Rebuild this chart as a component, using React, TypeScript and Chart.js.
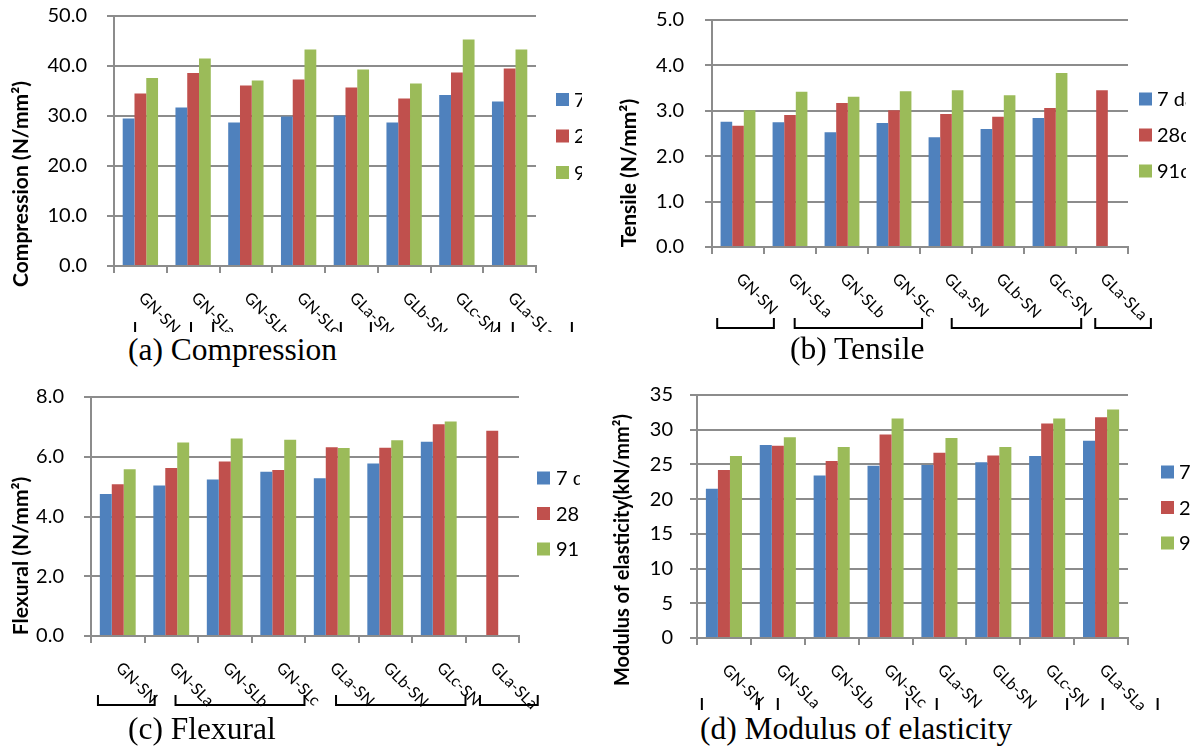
import React, { useEffect, useRef } from 'react';
import { Chart, registerables } from 'chart.js';

Chart.register(...registerables);

// ---------- data ----------
const categories = ['GN-SN', 'GN-SLa', 'GN-SLb', 'GN-SLc', 'GLa-SN', 'GLb-SN', 'GLc-SN', 'GLa-SLa'];
const seriesLabels = ['7 days', '28days', '91days'];
const seriesColors = ['#4F81BD', '#C0504D', '#9BBB59'];

const compression7 = [29.5, 31.7, 28.7, 29.9, 30.1, 28.7, 34.2, 32.9];
const compression28 = [34.5, 38.6, 36.1, 37.3, 35.7, 33.5, 38.7, 39.5];
const compression91 = [37.6, 41.5, 37.1, 43.3, 39.3, 36.5, 45.3, 43.3];
const compressionTicks = [0, 10, 20, 30, 40, 50];

const tensile7 = [2.76, 2.75, 2.53, 2.73, 2.42, 2.6, 2.84, null];
const tensile28 = [2.67, 2.91, 3.17, 3.01, 2.93, 2.87, 3.06, 3.45];
const tensile91 = [3.01, 3.42, 3.31, 3.43, 3.45, 3.34, 3.83, null];
const tensileTicks = [0, 1, 2, 3, 4, 5];

const flexural7 = [4.75, 5.04, 5.24, 5.5, 5.28, 5.77, 6.5, null];
const flexural28 = [5.08, 5.62, 5.84, 5.56, 6.32, 6.3, 7.09, 6.87];
const flexural91 = [5.58, 6.48, 6.61, 6.57, 6.29, 6.55, 7.18, null];
const flexuralTicks = [0, 2, 4, 6, 8];

const modulus7 = [21.5, 27.8, 23.4, 24.8, 24.9, 25.3, 26.2, 28.4];
const modulus28 = [24.2, 27.7, 25.5, 29.3, 26.7, 26.3, 30.9, 31.8];
const modulus91 = [26.2, 28.9, 27.5, 31.6, 28.8, 27.5, 31.6, 32.9];
const modulusTicks = [0, 5, 10, 15, 20, 25, 30, 35];

// ---------- layout ----------
const GRID = '#8c8c8c';
const FONT = 'Lato';

type Panel = {
  caption: string;
  captionPos: { left: number; top: number };
  yTitle: string;
  titleSize: number;
  series: (number | null)[][];
  ticks: number[];
  decimals: number;
  box: { x: number; y: number; w: number; h: number };
  plot: { left: number; right: number; top: number; bottom: number };
  tickPad: number;
  title: { x: number; y: number };
  legend: { x: number; tx: number; y: number; gap: number };
  bracketDy: number;
  bracketH: number;
  brackets: number[][];
};

const panels: Panel[] = [
  {
    caption: '(a) Compression',
    captionPos: { left: 128, top: 334 },
    yTitle: 'Compression (N/mm²)',
    titleSize: 21,
    series: [compression7, compression28, compression91],
    ticks: compressionTicks,
    decimals: 1,
    box: { x: 0, y: 0, w: 582, h: 332 },
    plot: { left: 114, right: 536, top: 16, bottom: 266 },
    tickPad: 20,
    title: { x: 21, y: 184 },
    legend: { x: 556, tx: 574, y: 99.5, gap: 36.5 },
    bracketDy: 56,
    bracketH: 14,
    brackets: [[0.4, 1.46], [1.88, 4.3], [4.87, 7.3], [7.56, 8.68]],
  },
  {
    caption: '(b) Tensile',
    captionPos: { left: 790, top: 333 },
    yTitle: 'Tensile (N/mm²)',
    titleSize: 21,
    series: [tensile7, tensile28, tensile91],
    ticks: tensileTicks,
    decimals: 1,
    box: { x: 600, y: 0, w: 586, h: 336 },
    plot: { left: 112, right: 528, top: 20, bottom: 247 },
    tickPad: 21,
    title: { x: 29, y: 173 },
    legend: { x: 539, tx: 557, y: 99, gap: 36 },
    bracketDy: 71,
    bracketH: 10,
    brackets: [[0.1, 1.19], [1.59, 4.04], [4.61, 7.1], [7.37, 8.44]],
  },
  {
    caption: '(c) Flexural',
    captionPos: { left: 128, top: 713 },
    yTitle: 'Flexural (N/mm²)',
    titleSize: 21,
    series: [flexural7, flexural28, flexural91],
    ticks: flexuralTicks,
    decimals: 1,
    box: { x: 0, y: 380, w: 580, h: 332 },
    plot: { left: 91, right: 519, top: 17, bottom: 256 },
    tickPad: 20,
    title: { x: 21, y: 176 },
    legend: { x: 537, tx: 556, y: 98, gap: 35.5 },
    bracketDy: 59,
    bracketH: 10,
    brackets: [[0.13, 1.19], [1.58, 3.99], [4.58, 7.0], [7.27, 8.35]],
  },
  {
    caption: '(d) Modulus of elasticity',
    captionPos: { left: 700, top: 713 },
    yTitle: 'Modulus of elasticity(kN/mm²)',
    titleSize: 20,
    series: [modulus7, modulus28, modulus91],
    ticks: modulusTicks,
    decimals: 0,
    box: { x: 600, y: 380, w: 590, h: 330 },
    plot: { left: 97, right: 528, top: 15, bottom: 258 },
    tickPad: 17,
    title: { x: 23, y: 170 },
    legend: { x: 561, tx: 579, y: 92, gap: 35.5 },
    bracketDy: 60,
    bracketH: 14,
    brackets: [[0.09, 1.15], [1.5, 3.9], [4.45, 6.87], [7.53, 8.55]],
  },
];

function makeOverlay(p: Panel) {
  return {
    id: 'overlay',
    afterDraw(chart: any) {
      const { ctx, chartArea, scales } = chart;
      const xs = scales.x;
      const labels: string[] = chart.data.labels;
      const catW = (xs.right - xs.left) / labels.length;
      ctx.save();
      // category labels, rotated clockwise
      ctx.font = `16px ${FONT}`;
      ctx.fillStyle = '#000';
      ctx.textAlign = 'left';
      ctx.textBaseline = 'middle';
      labels.forEach((lab, i) => {
        const cx = xs.getPixelForValue(i);
        ctx.save();
        ctx.translate(cx + 1, chartArea.bottom + 29);
        ctx.rotate(Math.PI / 4);
        ctx.fillText(lab, 0, 0);
        ctx.restore();
      });
      // group brackets
      ctx.strokeStyle = '#000';
      ctx.lineWidth = 2;
      p.brackets.forEach(([a, b]) => {
        const x1 = xs.left + a * catW;
        const x2 = xs.left + b * catW;
        const y1 = chartArea.bottom + p.bracketDy;
        const y2 = y1 + p.bracketH;
        ctx.beginPath();
        ctx.moveTo(x1, y1);
        ctx.lineTo(x1, y2);
        ctx.lineTo(x2, y2);
        ctx.lineTo(x2, y1);
        ctx.stroke();
      });
      // legend
      chart.data.datasets.forEach((ds: any, i: number) => {
        const cy = p.legend.y + i * p.legend.gap;
        ctx.fillStyle = ds.backgroundColor;
        ctx.fillRect(p.legend.x, cy - 6.5, 13, 13);
        ctx.fillStyle = '#000';
        ctx.font = `20px ${FONT}`;
        ctx.textBaseline = 'middle';
        ctx.textAlign = 'left';
        ctx.fillText(ds.label, p.legend.tx, cy + 1);
      });
      // y-axis title
      ctx.save();
      ctx.translate(p.title.x, p.title.y);
      ctx.rotate(-Math.PI / 2);
      ctx.font = `bold ${p.titleSize}px ${FONT}`;
      ctx.textAlign = 'center';
      ctx.textBaseline = 'middle';
      ctx.fillStyle = '#000';
      ctx.fillText(p.yTitle, 0, 0);
      ctx.restore();
      ctx.restore();
    },
  };
}

function PanelChart({ p }: { p: Panel }) {
  const ref = useRef<HTMLCanvasElement | null>(null);
  useEffect(() => {
    if (!ref.current) return;
    const min = p.ticks[0];
    const max = p.ticks[p.ticks.length - 1];
    const step = p.ticks[1] - p.ticks[0];
    const chart = new Chart(ref.current, {
      type: 'bar',
      data: {
        labels: categories,
        datasets: p.series.map((vals, i) => ({
          label: seriesLabels[i],
          data: vals,
          backgroundColor: seriesColors[i],
          borderWidth: 0,
          categoryPercentage: 0.67,
          barPercentage: 1.0,
        })),
      },
      options: {
        animation: false,
        responsive: false,
        events: [],
        layout: { padding: { top: p.plot.top, right: p.box.w - p.plot.right, left: 0, bottom: 0 } },
        plugins: { legend: { display: false }, tooltip: { enabled: false }, title: { display: false } },
        scales: {
          x: {
            grid: { drawOnChartArea: false, drawTicks: true, tickLength: 7, color: GRID, lineWidth: 2 },
            border: { display: true, color: GRID, width: 2 },
            ticks: { display: false },
            afterFit: (s: any) => {
              s.height = p.box.h - p.plot.bottom;
              s.paddingLeft = 0;
              s.paddingRight = 0;
            },
          },
          y: {
            min,
            max,
            ticks: {
              stepSize: step,
              padding: p.tickPad,
              color: '#000',
              font: { family: FONT, size: 20 },
              callback: (v: any) => Number(v).toFixed(p.decimals),
            },
            grid: { color: GRID, lineWidth: 2, tickLength: 7 },
            border: { display: true, color: GRID, width: 2 },
            afterFit: (s: any) => {
              s.width = p.plot.left;
              s.paddingTop = 0;
              s.paddingBottom = 0;
            },
          },
        },
      } as any,
      plugins: [makeOverlay(p)],
    });
    return () => chart.destroy();
  }, [p]);
  return (
    <canvas
      ref={ref}
      width={p.box.w}
      height={p.box.h}
      style={{ position: 'absolute', left: p.box.x, top: p.box.y, width: p.box.w, height: p.box.h }}
    />
  );
}

export default function App() {
  return (
    <div style={{ position: 'absolute', left: 0, top: 0, width: 1195, height: 747, background: '#fff', overflow: 'hidden' }}>
      {panels.map((p, i) => (
        <React.Fragment key={i}>
          <PanelChart p={p} />
          <div
            style={{
              position: 'absolute',
              left: p.captionPos.left,
              top: p.captionPos.top,
              fontFamily: '"Liberation Serif", "Times New Roman", serif',
              fontSize: 31.5,
              lineHeight: '31px',
              whiteSpace: 'nowrap',
              color: '#000',
            }}
          >
            {p.caption}
          </div>
        </React.Fragment>
      ))}
    </div>
  );
}
